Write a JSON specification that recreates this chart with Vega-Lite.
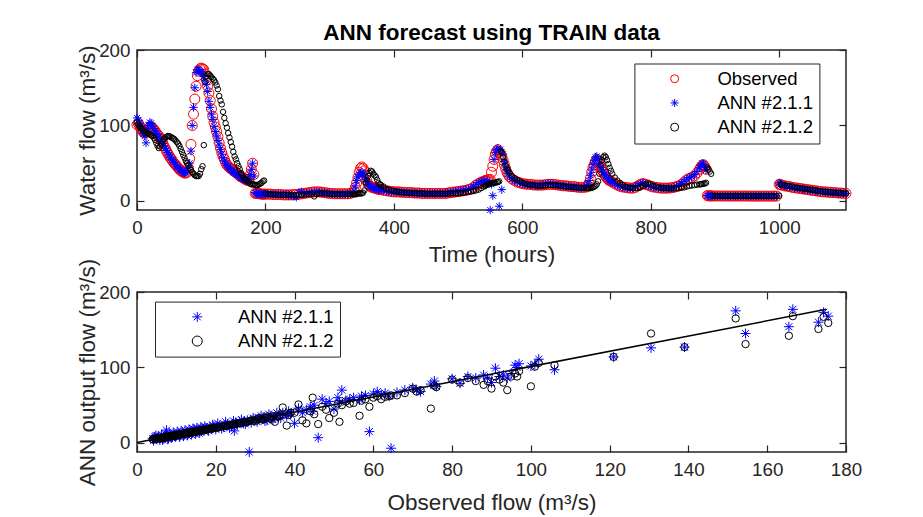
{
"$schema": "https://vega.github.io/schema/vega-lite/v6.json",
"padding": {"left": 75, "top": 20, "right": 5, "bottom": 0},
"background": "white",
"config": {
 "font": "Liberation Sans",
 "view": {"stroke": "#262626", "strokeWidth": 1.5},
 "axis": {"grid": false, "domain": false, "tickSize": -7, "tickColor": "#262626", "tickWidth": 1.2, "labelFont": "Liberation Sans", "labelFontSize": 18.8, "labelColor": "#262626", "labelFlush": false, "format": "d", "titleFont": "Liberation Sans", "titleFontSize": 22.5, "titleFontWeight": "normal", "titleColor": "#262626"},
 "legend": {"labelFont": "Liberation Sans", "labelFontSize": 18.5, "labelColor": "#000000", "strokeColor": "#262626", "fillColor": "white", "padding": 6, "rowPadding": 5.2, "symbolStrokeWidth": 1, "title": null},
 "title": {"font": "Liberation Sans"}
},
"datasets": {
 "ts": [
{"t":0,"o":101,"a":110,"b":104},{"t":2,"o":103,"a":107,"b":101},{"t":4,"o":100,"a":103,"b":99},{"t":6,"o":97,"a":99,"b":97},{"t":8,"o":94,"a":93,"b":95},{"t":10,"o":91,"a":89,"b":93},{"t":12,"o":90,"a":86,"b":92},{"t":14,"o":91,"a":77,"b":91},{"t":16,"o":93,"a":95,"b":90},{"t":18,"o":96,"a":100,"b":89},{"t":20,"o":98,"a":104,"b":88},{"t":22,"o":98,"a":103,"b":87},{"t":24,"o":97,"a":99,"b":86},{"t":26,"o":95,"a":96,"b":84},{"t":28,"o":93,"a":93,"b":81},{"t":30,"o":90,"a":90,"b":77},{"t":32,"o":88,"a":88,"b":73},{"t":34,"o":86,"a":85,"b":70},{"t":36,"o":83,"a":82,"b":72},{"t":38,"o":80,"a":79,"b":76},{"t":40,"o":77,"a":76,"b":79},{"t":42,"o":73,"a":73,"b":82},{"t":44,"o":70,"a":70,"b":84},{"t":46,"o":66,"a":67,"b":85},{"t":48,"o":63,"a":64,"b":86},{"t":50,"o":60,"a":61,"b":86},{"t":52,"o":57,"a":58,"b":85},{"t":54,"o":55,"a":55,"b":84},{"t":56,"o":52,"a":53,"b":83},{"t":58,"o":50,"a":51,"b":82},{"t":60,"o":48,"a":48,"b":80},{"t":62,"o":46,"a":46,"b":78},{"t":64,"o":44,"a":44,"b":76},{"t":66,"o":42,"a":42,"b":73},{"t":68,"o":40,"a":41,"b":69},{"t":70,"o":39,"a":39,"b":65},{"t":72,"o":38,"a":37,"b":61},{"t":74,"o":37,"a":37,"b":57},{"t":76,"o":37,"a":38,"b":53},{"t":78,"o":38,"a":40,"b":50},{"t":80,"o":44,"a":45,"b":47},{"t":82,"o":56,"a":50,"b":44},{"t":84,"o":75,"a":66,"b":41},{"t":86,"o":100,"a":100,"b":38},{"t":88,"o":115,"a":124,"b":36},{"t":90,"o":135,"a":150,"b":34},{"t":92,"o":152,"a":170,"b":33},{"t":94,"o":166,"a":174,"b":33},{"t":96,"o":172,"a":174,"b":33},{"t":98,"o":175,"a":172,"b":36},{"t":100,"o":176,"a":171,"b":42},{"t":102,"o":175,"a":168,"b":46},{"t":104,"o":174,"a":165,"b":74},{"t":106,"o":168,"a":160,"b":158},{"t":108,"o":160,"a":154,"b":165},{"t":110,"o":152,"a":145,"b":168},{"t":112,"o":143,"a":132,"b":168},{"t":114,"o":133,"a":124,"b":166},{"t":116,"o":122,"a":115,"b":164},{"t":118,"o":112,"a":108,"b":162},{"t":120,"o":104,"a":99,"b":160},{"t":122,"o":98,"a":92,"b":157},{"t":124,"o":92,"a":86,"b":153},{"t":126,"o":85,"a":80,"b":148},{"t":128,"o":77,"a":74,"b":139},{"t":130,"o":70,"a":68,"b":133},{"t":132,"o":64,"a":62,"b":128},{"t":134,"o":59,"a":57,"b":118},{"t":136,"o":55,"a":53,"b":110},{"t":138,"o":51,"a":50,"b":103},{"t":140,"o":48,"a":47,"b":97},{"t":142,"o":46,"a":45,"b":90},{"t":144,"o":44,"a":43,"b":84},{"t":146,"o":43,"a":41,"b":78},{"t":148,"o":42,"a":40,"b":72},{"t":150,"o":40,"a":38,"b":65},{"t":152,"o":39,"a":37,"b":59},{"t":154,"o":38,"a":36,"b":55},{"t":156,"o":36,"a":35,"b":50},{"t":158,"o":35,"a":34,"b":46},{"t":160,"o":33,"a":32,"b":42},{"t":162,"o":32,"a":31,"b":37},{"t":164,"o":31,"a":30,"b":34},{"t":166,"o":30,"a":29,"b":31},{"t":168,"o":29,"a":28,"b":29},{"t":170,"o":28,"a":27,"b":28},{"t":172,"o":27,"a":27,"b":26},{"t":174,"o":28,"a":29,"b":25},{"t":176,"o":34,"a":35,"b":23},{"t":178,"o":42,"a":42,"b":22},{"t":180,"o":50,"a":50,"b":22},{"t":182,"o":35,"a":33,"b":22},{"t":184,"o":10,"a":11,"b":21},{"t":186,"o":10,"a":10,"b":21},{"t":188,"o":10,"a":9,"b":21},{"t":190,"o":9.5,"a":9,"b":22},{"t":192,"o":9.5,"a":10,"b":23},{"t":194,"o":9,"a":9,"b":24},{"t":196,"o":9,"a":9,"b":26},{"t":198,"o":9,"a":9,"b":27},
{"t":200,"o":9,"a":9,"b":10},{"t":204,"o":9,"a":9.5,"b":9},{"t":208,"o":9,"a":8.5,"b":9},{"t":212,"o":8.5,"a":9,"b":8.5},{"t":216,"o":8.5,"a":8,"b":8.5},{"t":220,"o":8.5,"a":9,"b":8},{"t":224,"o":8.5,"a":8.5,"b":8},{"t":228,"o":8,"a":8,"b":8},{"t":232,"o":8,"a":8.5,"b":8},{"t":236,"o":8,"a":7.5,"b":8},{"t":240,"o":8,"a":8,"b":7.5},{"t":244,"o":8.5,"a":6,"b":7.5},{"t":248,"o":8.5,"a":5,"b":7.5},{"t":252,"o":9,"a":11,"b":8},{"t":256,"o":9.5,"a":12,"b":8},{"t":260,"o":10,"a":10,"b":8.5},{"t":264,"o":10.5,"a":10,"b":9},{"t":268,"o":11,"a":11,"b":9},{"t":272,"o":11.5,"a":11,"b":9.5},{"t":276,"o":12,"a":11.5,"b":6},{"t":280,"o":12,"a":12,"b":9},{"t":284,"o":12,"a":11.5,"b":10},{"t":288,"o":11.5,"a":11,"b":10},{"t":292,"o":11,"a":11,"b":10},{"t":296,"o":10.5,"a":10,"b":10},{"t":300,"o":10,"a":10,"b":9.5},{"t":304,"o":10,"a":9.5,"b":9},{"t":308,"o":9.5,"a":9.5,"b":9},{"t":312,"o":9.5,"a":9,"b":9},{"t":316,"o":9.5,"a":9.5,"b":9},{"t":320,"o":9.5,"a":9,"b":9},{"t":324,"o":9.5,"a":9.5,"b":9},{"t":328,"o":9.5,"a":9,"b":9},{"t":332,"o":10,"a":10,"b":9},
{"t":336,"o":11,"a":11,"b":9},{"t":338,"o":13,"a":13,"b":9},{"t":340,"o":18,"a":20,"b":9},{"t":342,"o":24,"a":27,"b":9},{"t":344,"o":31,"a":32,"b":10},{"t":346,"o":38,"a":35,"b":10},{"t":348,"o":43,"a":37,"b":10},{"t":350,"o":45,"a":38,"b":10},{"t":352,"o":43,"a":36,"b":11},{"t":354,"o":40,"a":33,"b":14},{"t":356,"o":34,"a":29,"b":24},{"t":358,"o":27,"a":25,"b":28},{"t":360,"o":22,"a":22,"b":33},{"t":362,"o":20,"a":20,"b":37},{"t":364,"o":19,"a":19,"b":40},{"t":366,"o":18,"a":18,"b":39},{"t":368,"o":17.5,"a":17,"b":36},{"t":370,"o":17,"a":17,"b":34},{"t":372,"o":16.5,"a":16,"b":32},{"t":374,"o":16,"a":16,"b":28},{"t":376,"o":15.5,"a":15,"b":24},{"t":378,"o":15,"a":15,"b":22},{"t":380,"o":15,"a":15,"b":21},{"t":384,"o":14,"a":14,"b":19},{"t":388,"o":13.5,"a":13,"b":16},{"t":392,"o":13,"a":13,"b":15},{"t":396,"o":12.5,"a":12,"b":14},{"t":400,"o":12,"a":12,"b":13},
{"t":404,"o":12,"a":12,"b":12.5},{"t":408,"o":12,"a":11.5,"b":12},{"t":412,"o":11.5,"a":11.5,"b":11.5},{"t":416,"o":11.5,"a":11,"b":11},{"t":420,"o":11,"a":11,"b":11},{"t":424,"o":11,"a":10.5,"b":10.5},{"t":428,"o":11,"a":11,"b":10.5},{"t":432,"o":10.5,"a":10.5,"b":10},{"t":436,"o":10.5,"a":10,"b":10},{"t":440,"o":10.5,"a":10.5,"b":10},{"t":444,"o":10,"a":10,"b":10},{"t":448,"o":10,"a":10,"b":9.5},{"t":452,"o":10,"a":9.5,"b":9.5},{"t":456,"o":10,"a":10,"b":9.5},{"t":460,"o":10,"a":10,"b":9.5},{"t":464,"o":10,"a":9.5,"b":9.5},{"t":468,"o":10,"a":10,"b":9.5},{"t":472,"o":10,"a":10,"b":9.5},{"t":476,"o":10,"a":10,"b":9.5},{"t":480,"o":10,"a":10,"b":9.5},{"t":484,"o":10.5,"a":11,"b":9.5},{"t":488,"o":11,"a":11.5,"b":10},{"t":492,"o":11.5,"a":12,"b":10},{"t":496,"o":12,"a":12.5,"b":10},
{"t":500,"o":12.5,"a":13,"b":10},{"t":504,"o":13,"a":13.5,"b":10.5},{"t":508,"o":13.5,"a":14,"b":11},{"t":512,"o":14,"a":14.5,"b":11.5},{"t":516,"o":15,"a":15.5,"b":12},{"t":520,"o":16,"a":16.5,"b":12.5},{"t":524,"o":18,"a":19,"b":13},{"t":528,"o":21,"a":22,"b":14},{"t":532,"o":23,"a":24,"b":15},{"t":536,"o":25,"a":26,"b":17},{"t":540,"o":26,"a":27,"b":19},{"t":542,"o":27,"a":24,"b":20},{"t":544,"o":27,"a":25,"b":21},{"t":546,"o":28,"a":27,"b":22},{"t":548,"o":28,"a":24,"b":22},{"t":550,"o":28.5,"a":-12,"b":23},{"t":552,"o":38,"a":22,"b":23},{"t":554,"o":46,"a":7,"b":24},{"t":556,"o":55,"a":55,"b":24},{"t":558,"o":62,"a":64,"b":24},{"t":560,"o":66,"a":68,"b":25},{"t":562,"o":68,"a":70,"b":25},{"t":564,"o":64.5,"a":-7,"b":26},{"t":566,"o":62,"a":68,"b":66},{"t":568,"o":59,"a":15,"b":64},{"t":570,"o":54,"a":62,"b":58},{"t":572,"o":48,"a":52,"b":52},{"t":574,"o":43,"a":45,"b":47},{"t":576,"o":38,"a":40,"b":43},{"t":578,"o":35,"a":36,"b":40},{"t":580,"o":32,"a":33,"b":37},{"t":584,"o":29,"a":29,"b":33},{"t":588,"o":27,"a":27,"b":30},{"t":592,"o":25,"a":25,"b":28},{"t":596,"o":24,"a":24,"b":26},
{"t":600,"o":23,"a":23,"b":24},{"t":604,"o":22.5,"a":22,"b":23},{"t":608,"o":22,"a":22,"b":22},{"t":612,"o":22,"a":21,"b":21.5},{"t":616,"o":21.5,"a":21,"b":21},{"t":620,"o":21,"a":21,"b":20.5},{"t":624,"o":21,"a":20,"b":20},{"t":628,"o":21,"a":21,"b":20},{"t":632,"o":21,"a":22,"b":20},{"t":636,"o":21.5,"a":22,"b":20.5},{"t":640,"o":22,"a":23,"b":21},{"t":644,"o":22,"a":23,"b":21},{"t":648,"o":22,"a":22,"b":21},{"t":652,"o":21.5,"a":21,"b":21},{"t":656,"o":21,"a":21,"b":20.5},{"t":660,"o":20.5,"a":20,"b":20},{"t":664,"o":20,"a":20,"b":19.5},{"t":668,"o":20,"a":19,"b":19},{"t":672,"o":19.5,"a":19,"b":19},{"t":676,"o":19,"a":19,"b":18.5},{"t":680,"o":19,"a":18,"b":18},{"t":684,"o":18.5,"a":18,"b":18},{"t":688,"o":18,"a":18,"b":17.5},{"t":692,"o":18,"a":17,"b":17},{"t":696,"o":18,"a":18,"b":17},{"t":700,"o":18.5,"a":19,"b":17},
{"t":702,"o":20,"a":22,"b":17},{"t":704,"o":24,"a":27,"b":17},{"t":706,"o":30,"a":34,"b":17},{"t":708,"o":38,"a":41,"b":17.5},{"t":710,"o":44,"a":48,"b":18},{"t":712,"o":48,"a":54,"b":19},{"t":714,"o":52,"a":58,"b":20},{"t":716,"o":55,"a":59,"b":22},{"t":718,"o":53,"a":55,"b":26},{"t":720,"o":49,"a":50,"b":36},{"t":722,"o":45,"a":45,"b":47},{"t":724,"o":41,"a":41,"b":54},{"t":726,"o":38,"a":38,"b":58},{"t":728,"o":35,"a":35,"b":60},{"t":730,"o":32,"a":33,"b":58},{"t":732,"o":30,"a":31,"b":54},{"t":734,"o":28,"a":29,"b":49},{"t":736,"o":27,"a":27,"b":44},{"t":738,"o":26,"a":26,"b":40},{"t":740,"o":25,"a":25,"b":36},{"t":744,"o":23,"a":23,"b":31},{"t":748,"o":21,"a":21,"b":27},{"t":752,"o":19.5,"a":19,"b":24},{"t":756,"o":18.5,"a":18,"b":21},{"t":760,"o":18,"a":18,"b":19},{"t":764,"o":17.5,"a":17,"b":18},{"t":768,"o":17,"a":17,"b":17.5},{"t":772,"o":17,"a":17,"b":17},{"t":776,"o":18,"a":19,"b":17},{"t":780,"o":20,"a":21,"b":17},{"t":784,"o":22,"a":23,"b":18},{"t":788,"o":23,"a":24,"b":20},{"t":792,"o":22,"a":22,"b":22},{"t":796,"o":21,"a":20,"b":23},{"t":800,"o":19.5,"a":19,"b":22},{"t":804,"o":18.5,"a":18,"b":20},{"t":808,"o":18,"a":18,"b":19},{"t":812,"o":17.5,"a":17,"b":18},{"t":816,"o":17,"a":17,"b":17.5},{"t":820,"o":17,"a":17,"b":17},{"t":824,"o":17,"a":16,"b":17},{"t":828,"o":17,"a":17,"b":16.5},{"t":832,"o":17.5,"a":17,"b":16.5},{"t":836,"o":18,"a":18,"b":16.5},{"t":840,"o":19,"a":19,"b":17},
{"t":844,"o":20,"a":21,"b":17},{"t":848,"o":22,"a":23,"b":17.5},{"t":852,"o":25,"a":26,"b":18},{"t":856,"o":28,"a":29,"b":19},{"t":860,"o":30,"a":31,"b":20},{"t":864,"o":31,"a":32,"b":20.5},{"t":868,"o":33,"a":35,"b":21},{"t":872,"o":37,"a":39,"b":21.5},{"t":876,"o":42,"a":44,"b":22},{"t":878,"o":45,"a":47,"b":22},{"t":880,"o":47,"a":50,"b":22.5},{"t":882,"o":48,"a":49,"b":23},{"t":884,"o":46,"a":45,"b":23},{"t":886,"o":42,"a":41,"b":24},{"t":888,"o":7,"a":7,"b":44},{"t":890,"o":6.8,"a":7,"b":42},{"t":892,"o":6.7,"a":6.5,"b":39},{"t":894,"o":6.7,"a":6.5,"b":36},{"t":896,"o":6.6,"a":6.5,"b":7},
{"t":900,"o":6.6,"a":6.5,"b":6.5},{"t":904,"o":6.6,"a":6.5,"b":6.5},{"t":908,"o":6.6,"a":6.5,"b":6.5},{"t":912,"o":6.5,"a":6.5,"b":6.5},{"t":916,"o":6.5,"a":6.5,"b":6.5},{"t":920,"o":6.5,"a":6.5,"b":6.5},{"t":924,"o":6.5,"a":6.5,"b":6.5},{"t":928,"o":6.5,"a":6.5,"b":6.5},{"t":932,"o":6.5,"a":6.5,"b":6.5},{"t":936,"o":6.5,"a":6.5,"b":6.5},{"t":940,"o":6.5,"a":6.5,"b":6.5},{"t":944,"o":6.5,"a":6.5,"b":6.5},{"t":948,"o":6.5,"a":6.5,"b":6.5},{"t":952,"o":6.5,"a":6.5,"b":6.5},{"t":956,"o":6.4,"a":6.5,"b":6.5},{"t":960,"o":6.4,"a":6.5,"b":6.5},{"t":964,"o":6.4,"a":6.5,"b":6.5},{"t":968,"o":6.4,"a":6.5,"b":6.5},{"t":972,"o":6.4,"a":6.5,"b":6.5},{"t":976,"o":6.4,"a":6.5,"b":6.5},{"t":980,"o":6.4,"a":6.5,"b":6.5},{"t":984,"o":6.4,"a":6.5,"b":6.5},{"t":988,"o":6.4,"a":6.5,"b":6.5},{"t":992,"o":6.4,"a":6.5,"b":6.5},{"t":996,"o":6.4,"a":6.5,"b":6.5},
{"t":1000,"o":22,"a":24,"b":7},{"t":1002,"o":21.5,"a":22,"b":22},{"t":1004,"o":21,"a":21,"b":21.5},{"t":1008,"o":20,"a":20,"b":21},{"t":1012,"o":19.5,"a":19,"b":20},{"t":1016,"o":19,"a":19,"b":19.5},{"t":1020,"o":18,"a":18,"b":19},{"t":1024,"o":17.5,"a":17,"b":18},{"t":1028,"o":17,"a":17,"b":17.5},{"t":1032,"o":16.5,"a":16,"b":17},{"t":1036,"o":16,"a":16,"b":16.5},{"t":1040,"o":15.5,"a":15,"b":16},{"t":1044,"o":15,"a":15,"b":15.5},{"t":1048,"o":14.5,"a":14,"b":15},{"t":1052,"o":14,"a":14,"b":14.5},{"t":1056,"o":13.5,"a":13,"b":14},{"t":1060,"o":13,"a":13,"b":13.5},{"t":1064,"o":12.5,"a":12,"b":13},{"t":1068,"o":12,"a":12,"b":12.5},{"t":1072,"o":12,"a":12,"b":12},{"t":1076,"o":11.5,"a":11,"b":12},{"t":1080,"o":11.5,"a":11,"b":11.5},{"t":1084,"o":11,"a":11,"b":11},{"t":1088,"o":11,"a":11,"b":11},{"t":1092,"o":10.5,"a":10,"b":10.5},{"t":1096,"o":10.5,"a":10,"b":10.5},{"t":1100,"o":10,"a":10,"b":10},{"t":1104,"o":10,"a":10,"b":10}
 ],
 "sc": [
{"o":4,"a":6,"b":5},{"o":4.2,"a":3,"b":4.5},{"o":4.5,"a":8,"b":6},{"o":4.8,"a":10,"b":5},{"o":5,"a":5,"b":6},{"o":5.2,"a":7,"b":5.5},{"o":5.5,"a":9,"b":7},{"o":5.8,"a":4,"b":6.5},{"o":6,"a":7,"b":6},{"o":6.2,"a":11,"b":6},{"o":6.5,"a":4,"b":7},{"o":6.8,"a":6,"b":7.5},{"o":7,"a":8,"b":7},{"o":7.2,"a":12,"b":7},{"o":7.5,"a":10,"b":8},{"o":7.5,"a":17,"b":9},{"o":7.8,"a":5,"b":8.5},{"o":8,"a":6,"b":8},{"o":8.2,"a":13,"b":8},{"o":8.5,"a":9,"b":9},{"o":8.8,"a":7,"b":9.5},{"o":9,"a":8,"b":9},{"o":9.2,"a":14,"b":9},{"o":9.5,"a":11,"b":10},{"o":9.8,"a":8,"b":10.5},{"o":10,"a":10,"b":10},{"o":10.2,"a":15,"b":10},{"o":10.5,"a":12,"b":11},{"o":10.8,"a":8,"b":11.5},{"o":11,"a":10,"b":11},{"o":11.2,"a":16,"b":11},{"o":11.5,"a":13,"b":12},{"o":11.8,"a":9,"b":12.5},{"o":12,"a":11,"b":12},{"o":12.2,"a":17,"b":12},{"o":12.5,"a":14,"b":13},{"o":12.8,"a":10,"b":13.5},{"o":13,"a":12,"b":13},{"o":13.2,"a":18,"b":13},{"o":13.5,"a":15,"b":14},{"o":13.8,"a":11,"b":14.5},{"o":14,"a":13,"b":14},{"o":14.2,"a":19,"b":14},{"o":14.5,"a":18,"b":15},{"o":14.8,"a":12,"b":15.5},{"o":15,"a":14,"b":15},{"o":15.2,"a":20,"b":15},{"o":15.5,"a":17,"b":16},{"o":15.8,"a":13,"b":16.5},{"o":16,"a":15,"b":16},{"o":16.2,"a":21,"b":16},{"o":16.5,"a":19,"b":17},{"o":17,"a":16,"b":17},{"o":17.2,"a":22,"b":17},{"o":17.5,"a":20,"b":18},{"o":18,"a":17,"b":18},{"o":18.2,"a":16,"b":18.5},{"o":18.5,"a":21,"b":19},{"o":19,"a":19,"b":19},{"o":19.2,"a":24,"b":19},{"o":19.5,"a":22,"b":20},{"o":20,"a":18,"b":20},{"o":20.5,"a":26,"b":20.5},{"o":21,"a":23,"b":21},{"o":21.5,"a":19,"b":22},{"o":22,"a":21,"b":22},{"o":22.5,"a":28,"b":22.5},{"o":23,"a":25,"b":23},{"o":23.5,"a":20,"b":24},{"o":24,"a":22,"b":24},{"o":24.5,"a":29,"b":24.5},{"o":24.7,"a":16,"b":25},{"o":25,"a":27,"b":25},{"o":25.5,"a":24,"b":26},{"o":26,"a":28,"b":26},{"o":26.5,"a":31,"b":26.5},{"o":27,"a":26,"b":27},{"o":27.5,"a":25,"b":28},{"o":28,"a":30,"b":28},{"o":28.5,"a":-12,"b":29},{"o":29,"a":27,"b":30},{"o":29.5,"a":33,"b":29.5},{"o":30,"a":32,"b":29},{"o":30.5,"a":28,"b":31},{"o":31,"a":31,"b":33},{"o":31.5,"a":36,"b":31.5},{"o":32,"a":34,"b":31},{"o":32.5,"a":29,"b":33},{"o":33,"a":30,"b":35},{"o":33.5,"a":38,"b":33.5},{"o":34,"a":36,"b":32},{"o":34.5,"a":31,"b":35},{"o":35,"a":33,"b":28},{"o":35.5,"a":40,"b":35},{"o":36,"a":37,"b":35},{"o":36.5,"a":33,"b":37},{"o":37,"a":40,"b":47},{"o":38,"a":36,"b":23},{"o":38.5,"a":42,"b":37},{"o":39,"a":38,"b":40},{"o":40,"a":26,"b":40},{"o":41,"a":46,"b":51},{"o":42,"a":40,"b":30},{"o":43,"a":44,"b":26},{"o":44,"a":48,"b":42},{"o":44.6,"a":42,"b":60},{"o":45,"a":50,"b":38},{"o":46,"a":7,"b":25},{"o":47,"a":58,"b":48},{"o":48,"a":52,"b":44},{"o":48.8,"a":55,"b":33},{"o":50,"a":45,"b":40},{"o":51,"a":60,"b":52},{"o":51.4,"a":54,"b":28},{"o":52,"a":70,"b":50},{"o":53,"a":56,"b":55},{"o":54,"a":58,"b":52},{"o":55,"a":60,"b":53},{"o":56.5,"a":57,"b":36},{"o":57,"a":62,"b":56},{"o":58,"a":63,"b":58},{"o":59,"a":15,"b":48},{"o":60,"a":65,"b":60},{"o":61,"a":68,"b":62},{"o":62,"a":64,"b":58},{"o":63,"a":66,"b":61},{"o":64,"a":62,"b":62},{"o":64.5,"a":-7,"b":63},{"o":66,"a":67,"b":63},{"o":68,"a":70,"b":66},{"o":70,"a":73,"b":72},{"o":71,"a":70,"b":68},{"o":72,"a":68,"b":70},{"o":74.6,"a":78,"b":45.5},{"o":75.5,"a":82,"b":76},{"o":76,"a":75,"b":74},{"o":80,"a":85,"b":84},{"o":82,"a":79,"b":80},{"o":84,"a":88,"b":86},{"o":86,"a":86,"b":82},{"o":88,"a":90,"b":77},{"o":89,"a":86,"b":82},{"o":90,"a":80,"b":72},{"o":91,"a":99,"b":88},{"o":92,"a":88,"b":84},{"o":93,"a":90,"b":80},{"o":94,"a":86,"b":70},{"o":95,"a":92,"b":88},{"o":96,"a":103,"b":92},{"o":96.5,"a":100,"b":88},{"o":97,"a":105,"b":95},{"o":100,"a":102,"b":75},{"o":101,"a":104,"b":101},{"o":102,"a":111,"b":106},{"o":106,"a":97,"b":103},{"o":121,"a":114,"b":114},{"o":130.5,"a":126,"b":145},{"o":139,"a":127,"b":127},{"o":152,"a":175,"b":165},{"o":154.5,"a":145,"b":131},{"o":165.5,"a":154,"b":142},{"o":166.5,"a":177,"b":168},{"o":173,"a":160,"b":151},{"o":174.3,"a":173,"b":167},{"o":175.5,"a":168,"b":159}
 ],
 "ln": [{"x":0,"y":0.5},{"x":175,"y":177}]
},
"spacing": -10,
"resolve": {"scale": {"color": "independent", "shape": "independent"}, "legend": {"color": "independent", "shape": "independent"}},
"vconcat": [
 {
  "width": 709, "height": 160,
  "title": {"text": "ANN forecast using TRAIN data", "fontSize": 22.5, "fontWeight": "bold", "color": "#000000", "offset": -3, "anchor": "middle"},
  "data": {"name": "ts"},
  "layer": [
   {"mark": {"type": "point", "filled": false, "size": 100, "strokeWidth": 1, "opacity": 1},
    "encoding": {
     "x": {"field": "t", "type": "quantitative", "scale": {"domain": [0, 1104], "nice": false, "zero": false}, "axis": {"values": [0,200,400,600,800,1000], "title": "Time (hours)", "labelPadding": 15, "titlePadding": 5.5, "minExtent": 28, "maxExtent": 28}},
     "y": {"field": "o", "type": "quantitative", "scale": {"domain": [-12, 200], "nice": false, "zero": false}, "axis": {"values": [0,100,200], "title": "Water flow (m³/s)", "labelPadding": 14, "titlePadding": 0, "minExtent": 38, "maxExtent": 38}},
     "color": {"datum": "Observed", "type": "nominal", "scale": {"domain": ["Observed","ANN #2.1.1","ANN #2.1.2"], "range": ["#ff0000","#0000ff","#000000"]},
       "legend": {"title": null, "orient": "none", "legendX": 497.4, "legendY": 13.5, "symbolSize": 64, "symbolOffset": 25, "labelOffset": 33.5,
         "encode": {"symbols": {"update": {"size": {"signal": "datum.value === 'Observed' ? 64 : datum.value === 'ANN #2.1.1' ? 36 : 16"}}}}}},
     "shape": {"datum": "Observed", "type": "nominal", "scale": {"domain": ["Observed","ANN #2.1.1","ANN #2.1.2"], "range": ["circle","M-1,0L1,0M0,-1L0,1M-0.7,-0.7L0.7,0.7M-0.7,0.7L0.7,-0.7","circle"]}, "legend": {"title": null}}
    }},
   {"mark": {"type": "point", "filled": false, "size": 70, "strokeWidth": 1, "opacity": 1},
    "encoding": {
     "x": {"field": "t", "type": "quantitative", "scale": {"domain": [0, 1104], "nice": false, "zero": false}, "axis": {"orient": "top", "values": [0,200,400,600,800,1000], "labels": false, "title": null, "minExtent": 0, "maxExtent": 0}},
     "y": {"field": "a", "type": "quantitative", "scale": {"domain": [-12, 200], "nice": false, "zero": false}, "axis": {"orient": "right", "values": [0,100,200], "labels": false, "title": null, "minExtent": 0, "maxExtent": 0}},
     "color": {"datum": "ANN #2.1.1", "type": "nominal"},
     "shape": {"datum": "ANN #2.1.1", "type": "nominal"}
    }},
   {"mark": {"type": "point", "filled": false, "size": 30, "strokeWidth": 1, "opacity": 1},
    "encoding": {
     "x": {"field": "t", "type": "quantitative", "axis": null},
     "y": {"field": "b", "type": "quantitative", "axis": null},
     "color": {"datum": "ANN #2.1.2", "type": "nominal"},
     "shape": {"datum": "ANN #2.1.2", "type": "nominal"}
    }}
  ],
  "resolve": {"axis": {"x": "independent", "y": "independent"}}
 },
 {
  "width": 709, "height": 160,
  "data": {"name": "sc"},
  "layer": [
   {"mark": {"type": "point", "filled": false, "size": 100, "strokeWidth": 1, "opacity": 1},
    "encoding": {
     "x": {"field": "o", "type": "quantitative", "scale": {"domain": [0, 180], "nice": false, "zero": false}, "axis": {"values": [0,20,40,60,80,100,120,140,160,180], "title": "Observed flow (m³/s)", "labelPadding": 15, "titlePadding": 11, "minExtent": 28, "maxExtent": 28}},
     "y": {"field": "a", "type": "quantitative", "scale": {"domain": [-12, 200], "nice": false, "zero": false}, "axis": {"values": [0,100,200], "title": "ANN output flow (m³/s)", "labelPadding": 14, "titlePadding": 0, "minExtent": 38, "maxExtent": 38}},
     "color": {"datum": "ANN #2.1.1", "type": "nominal", "scale": {"domain": ["ANN #2.1.1","ANN #2.1.2"], "range": ["#0000ff","#000000"]},
       "legend": {"title": null, "orient": "none", "legendX": 18, "legendY": 9.6, "symbolSize": 100, "symbolOffset": 27, "labelOffset": 31.5,
         "encode": {"symbols": {"update": {"size": {"signal": "datum.value === 'ANN #2.1.1' ? 100 : 49"}}}}}},
     "shape": {"datum": "ANN #2.1.1", "type": "nominal", "scale": {"domain": ["ANN #2.1.1","ANN #2.1.2"], "range": ["M-1,0L1,0M0,-1L0,1M-0.7,-0.7L0.7,0.7M-0.7,0.7L0.7,-0.7","circle"]}, "legend": {"title": null}}
    }},
   {"mark": {"type": "point", "filled": false, "size": 54, "strokeWidth": 1, "opacity": 1},
    "encoding": {
     "x": {"field": "o", "type": "quantitative", "scale": {"domain": [0, 180], "nice": false, "zero": false}, "axis": {"orient": "top", "values": [0,20,40,60,80,100,120,140,160,180], "labels": false, "title": null, "minExtent": 0, "maxExtent": 0}},
     "y": {"field": "b", "type": "quantitative", "scale": {"domain": [-12, 200], "nice": false, "zero": false}, "axis": {"orient": "right", "values": [0,100,200], "labels": false, "title": null, "minExtent": 0, "maxExtent": 0}},
     "color": {"datum": "ANN #2.1.2", "type": "nominal"},
     "shape": {"datum": "ANN #2.1.2", "type": "nominal"}
    }},
   {"data": {"name": "ln"},
    "mark": {"type": "line", "color": "#000000", "strokeWidth": 1.5},
    "encoding": {
     "x": {"field": "x", "type": "quantitative", "axis": null},
     "y": {"field": "y", "type": "quantitative", "axis": null}
    }}
  ],
  "resolve": {"axis": {"x": "independent", "y": "independent"}}
 }
]
}
